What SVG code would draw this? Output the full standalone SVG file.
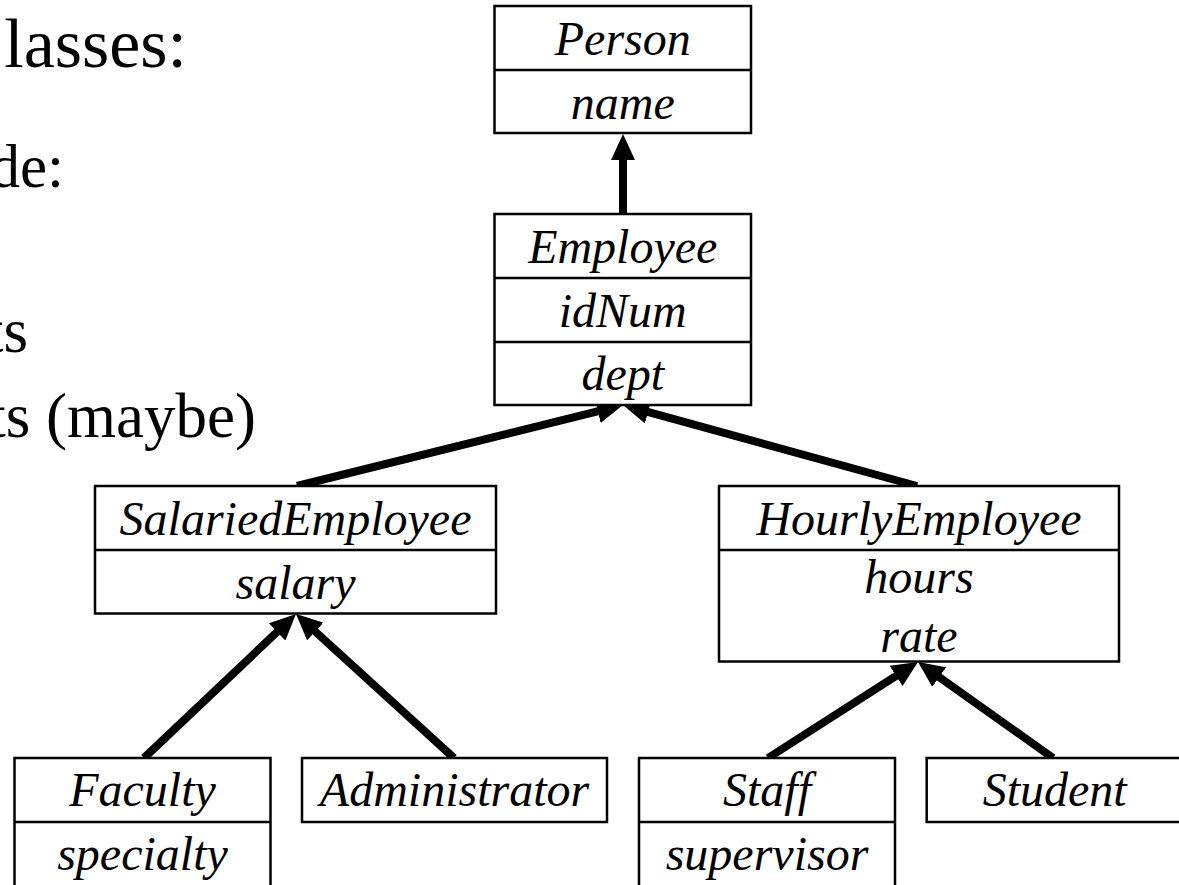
<svg xmlns="http://www.w3.org/2000/svg" width="1179" height="885" viewBox="0 0 1179 885">
<style>
.box{fill:#fff;stroke:#000;stroke-width:2.5}
.div{stroke:#000;stroke-width:2.5}
.lbl{font-family:"Liberation Serif","Times New Roman",serif;font-style:italic;font-size:48px;fill:#000;text-anchor:middle}
.body{font-family:"Liberation Serif","Times New Roman",serif;fill:#000;text-anchor:end}
.conn{stroke:#000;stroke-width:8;fill:none;marker-end:url(#arr)}
</style>
<defs>
<marker id="arr" viewBox="0 0 26 24" refX="8" refY="12" markerWidth="26" markerHeight="24" markerUnits="userSpaceOnUse" orient="auto">
<path d="M0,0 L26,12 L0,24 z" fill="#000"/>
</marker>
</defs>
<rect width="1179" height="885" fill="#fff"/>
<g id="bullets">
<text class="body" x="187" y="67" font-size="70">lasses:</text>
<text class="body" x="64" y="187" font-size="61">de:</text>
<text class="body" x="28" y="352" font-size="63">ts</text>
<text class="body" x="256" y="437" font-size="63">ts (maybe)</text>
</g>
<g id="connectors">
<line class="conn" x1="623" y1="214" x2="623" y2="152"/>
<line class="conn" x1="297" y1="486" x2="605.5" y2="409.3"/>
<line class="conn" x1="917" y1="486" x2="640.4" y2="409.8"/>
<line class="conn" x1="144" y1="758" x2="282.9" y2="626.4"/>
<line class="conn" x1="454" y1="758" x2="309.3" y2="626.1"/>
<line class="conn" x1="768" y1="758" x2="902.8" y2="671.7"/>
<line class="conn" x1="1053" y1="758" x2="932.7" y2="672.4"/>
</g>
<g id="Person">
<rect class="box" x="494.5" y="6" width="256.5" height="127"/>
<line class="div" x1="494.5" y1="70" x2="751" y2="70"/>
<text class="lbl" x="622.75" y="55">Person</text>
<text class="lbl" x="622.75" y="119">name</text>
</g>
<g id="Employee">
<rect class="box" x="494.5" y="214" width="256.5" height="191"/>
<line class="div" x1="494.5" y1="278" x2="751" y2="278"/>
<line class="div" x1="494.5" y1="342" x2="751" y2="342"/>
<text class="lbl" x="622.75" y="263">Employee</text>
<text class="lbl" x="622.75" y="327">idNum</text>
<text class="lbl" x="622.75" y="390">dept</text>
</g>
<g id="SalariedEmployee">
<rect class="box" x="95" y="486" width="401" height="127.5"/>
<line class="div" x1="95" y1="550" x2="496" y2="550"/>
<text class="lbl" x="295.5" y="535">SalariedEmployee</text>
<text class="lbl" x="295.5" y="599">salary</text>
</g>
<g id="HourlyEmployee">
<rect class="box" x="719" y="486" width="400" height="175.5"/>
<line class="div" x1="719" y1="550" x2="1119" y2="550"/>
<text class="lbl" x="919" y="535">HourlyEmployee</text>
<text class="lbl" x="919" y="593">hours</text>
<text class="lbl" x="919" y="652">rate</text>
</g>
<g id="Faculty">
<rect class="box" x="14.5" y="758" width="256" height="140"/>
<line class="div" x1="14.5" y1="822" x2="270.5" y2="822"/>
<text class="lbl" x="142.5" y="806">Faculty</text>
<text class="lbl" x="142.5" y="870">specialty</text>
</g>
<g id="Administrator">
<rect class="box" x="302" y="758" width="305" height="64"/>
<text class="lbl" x="454.5" y="806">Administrator</text>
</g>
<g id="Staff">
<rect class="box" x="639" y="758" width="256" height="140"/>
<line class="div" x1="639" y1="822" x2="895" y2="822"/>
<text class="lbl" x="767" y="806">Staff</text>
<text class="lbl" x="767" y="870">supervisor</text>
</g>
<g id="Student">
<rect class="box" x="926.7" y="758" width="256" height="64"/>
<text class="lbl" x="1054.7" y="806">Student</text>
</g>
</svg>
